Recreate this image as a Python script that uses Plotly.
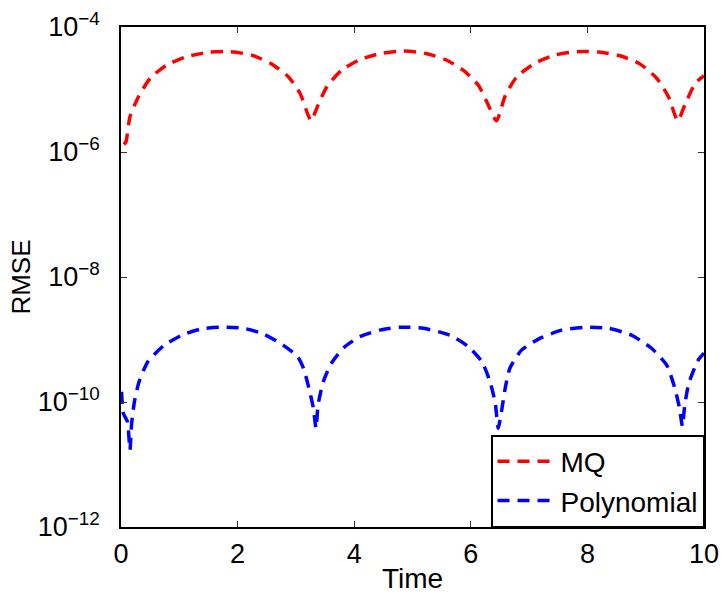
import plotly.graph_objects as go

# MQ series (Time, RMSE)
mq_t = [0.05, 0.086, 0.154, 0.30, 0.50, 0.78, 1.13, 1.50, 1.87, 2.24, 2.58, 2.87, 3.07, 3.21, 3.26,
        3.38, 3.53, 3.785, 4.10, 4.47, 4.84, 5.21, 5.56, 5.87, 6.13, 6.30, 6.44,
        6.59, 6.79, 7.10, 7.44, 7.82, 8.19, 8.56, 8.90, 9.19, 9.39, 9.55, 9.67, 9.85, 10.0]
mq_rmse = [1.32e-6, 1.46e-6, 3.67e-6, 7.67e-6, 1.51e-5, 2.45e-5, 3.35e-5, 3.94e-5, 4.03e-5, 3.55e-5,
           2.57e-5, 1.60e-5, 8.71e-6, 3.89e-6, 3.16e-6,
           5.62e-6, 1.11e-5, 2.04e-5, 3.02e-5, 3.80e-5, 4.12e-5, 3.80e-5, 3.02e-5, 2.04e-5, 1.17e-5,
           5.62e-6, 3.16e-6,
           7.94e-6, 1.60e-5, 2.63e-5, 3.55e-5, 4.03e-5, 3.98e-5, 3.47e-5, 2.57e-5, 1.51e-5, 7.67e-6,
           3.16e-6, 5.62e-6, 1.26e-5, 1.66e-5]

# Polynomial series (Time, RMSE)
poly_t = [0.01, 0.04, 0.11, 0.154, 0.18, 0.23, 0.31, 0.46, 0.73, 1.04, 1.38, 1.73, 2.10, 2.44, 2.78,
          3.03, 3.13, 3.21, 3.30, 3.345, 3.38, 3.47, 3.61, 3.84, 4.10, 4.44, 4.79, 5.19, 5.64, 5.96,
          6.19, 6.33, 6.42, 6.47, 6.53, 6.59, 6.67, 6.87, 7.19, 7.56, 7.96, 8.36, 8.76, 9.10, 9.36,
          9.50, 9.58, 9.63, 9.67, 9.74, 9.90, 10.0]
poly_rmse = [1.46e-10, 6.61e-11, 4.84e-11, 1.70e-11, 4.27e-11, 1.01e-10, 2.11e-10, 4.42e-10, 7.94e-10,
             1.17e-9, 1.48e-9, 1.57e-9, 1.51e-9, 1.23e-9, 8.13e-10,
             5.31e-10, 3.47e-10, 1.86e-10, 7.94e-11, 3.80e-11, 8.91e-11, 2.11e-10, 4.17e-10, 7.67e-10,
             1.11e-9, 1.41e-9, 1.57e-9, 1.51e-9, 1.17e-9, 7.67e-10,
             4.42e-10, 2.11e-10, 9.55e-11, 3.80e-11, 7.41e-11, 1.66e-10, 3.47e-10, 6.76e-10, 1.05e-9,
             1.41e-9, 1.57e-9, 1.51e-9, 1.17e-9, 7.24e-10, 3.89e-10,
             1.66e-10, 7.94e-11, 4.07e-11, 8.91e-11, 2.00e-10, 4.68e-10, 6.03e-10]

x_ticks = [0, 2, 4, 6, 8, 10]
y_ticks = [1e-12, 1e-10, 1e-8, 1e-6, 1e-4]
y_ticktext = ["10<sup>−12</sup>", "10<sup>−10</sup>", "10<sup>−8</sup>", "10<sup>−6</sup>", "10<sup>−4</sup>"]

FONT = "Liberation Sans, Arial, sans-serif"
DASH = "12px,8px"

fig = go.Figure()
fig.add_trace(go.Scatter(x=mq_t, y=mq_rmse, mode="lines", name="MQ",
                         line=dict(color="#ff0000", width=3.5, dash=DASH, shape="spline", smoothing=0.6)))
fig.add_trace(go.Scatter(x=poly_t, y=poly_rmse, mode="lines", name="Polynomial",
                         line=dict(color="#0000ff", width=3.5, dash=DASH, shape="spline", smoothing=0.6)))

axis_common = dict(showline=True, linecolor="black", linewidth=1.5, mirror="ticks",
                   ticks="inside", ticklen=6, tickcolor="#333", tickwidth=1,
                   showgrid=False, zeroline=False, automargin=False,
                   tickfont=dict(family=FONT, size=27, color="black"))

fig.update_xaxes(range=[0, 10], tickvals=x_ticks, ticktext=[str(v) for v in x_ticks],
                 ticklabelstandoff=2,
                 title=dict(text="Time", font=dict(family=FONT, size=28, color="black"), standoff=0),
                 **axis_common)
fig.update_yaxes(type="log", range=[-12, -4], tickvals=y_ticks, ticktext=y_ticktext,
                 ticklabelstandoff=14,
                 title=dict(text="RMSE", font=dict(family=FONT, size=26, color="black"), standoff=0),
                 **axis_common)

fig.update_layout(
    width=722, height=596,
    margin=dict(l=121, r=18, t=27, b=69, autoexpand=False),
    paper_bgcolor="white", plot_bgcolor="white",
    font=dict(family=FONT, color="black"),
    showlegend=True,
    legend=dict(x=1, y=0, xanchor="right", yanchor="bottom",
                bgcolor="white", bordercolor="black", borderwidth=1.5,
                font=dict(family=FONT, size=28, color="black"),
                itemwidth=58, tracegroupgap=0),
)

fig.write_html("out.html")
